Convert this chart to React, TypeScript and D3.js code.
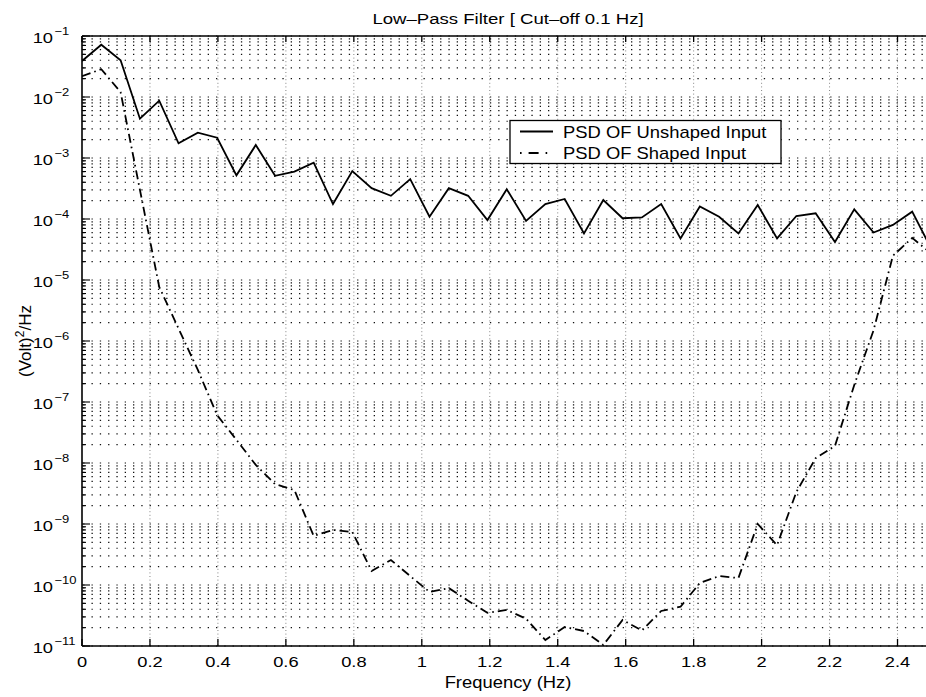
import React from "react";
import * as d3 from "d3";

// Frequency bins (Hz)
const freqs = [
  0, 0.0568, 0.1136, 0.1705, 0.2273, 0.2841, 0.3409, 0.3977, 0.4545, 0.5114,
  0.5682, 0.625, 0.6818, 0.7386, 0.7955, 0.8523, 0.9091, 0.9659, 1.0227, 1.0795,
  1.1364, 1.1932, 1.25, 1.3068, 1.3636, 1.4205, 1.4773, 1.5341, 1.5909, 1.6477,
  1.7045, 1.7614, 1.8182, 1.875, 1.9318, 1.9886, 2.0455, 2.1023, 2.1591, 2.2159,
  2.2727, 2.3295, 2.3864, 2.4432, 2.5,
];

// PSD of the unshaped input, (Volt)^2/Hz
const psdUnshaped = [
  3.9e-2, 7.2e-2, 4.0e-2, 4.4e-3, 8.7e-3, 1.74e-3, 2.6e-3, 2.15e-3, 5.2e-4, 1.63e-3,
  5.1e-4, 6.0e-4, 8.4e-4, 1.76e-4, 6.1e-4, 3.2e-4, 2.4e-4, 4.5e-4, 1.09e-4, 3.2e-4,
  2.4e-4, 9.6e-5, 3.07e-4, 9.3e-5, 1.76e-4, 2.13e-4, 5.8e-5, 2.05e-4, 1.03e-4, 1.06e-4,
  1.76e-4, 4.8e-5, 1.6e-4, 1.09e-4, 5.8e-5, 1.7e-4, 4.8e-5, 1.12e-4, 1.24e-4, 4.2e-5,
  1.44e-4, 6.0e-5, 8.0e-5, 1.32e-4, 3.2e-5,
];

// PSD of the shaped (low-pass filtered) input, (Volt)^2/Hz
const psdShaped = [
  2.2e-2, 2.85e-2, 1.2e-2, 3.0e-4, 7.7e-6, 1.6e-6, 3.35e-7, 6.1e-8, 2.4e-8, 9.3e-9,
  4.5e-9, 3.6e-9, 6.4e-10, 8.0e-10, 7.4e-10, 1.7e-10, 2.57e-10, 1.4e-10, 7.7e-11, 8.9e-11,
  5.5e-11, 3.5e-11, 3.9e-11, 2.8e-11, 1.25e-11, 2.05e-11, 1.76e-11, 1.04e-11, 2.67e-11, 1.8e-11,
  3.75e-11, 4.4e-11, 1.08e-10, 1.4e-10, 1.3e-10, 1.0e-9, 4.5e-10, 3.35e-9, 1.2e-8, 1.9e-8,
  1.9e-7, 1.5e-6, 2.5e-5, 4.9e-5, 2.7e-5,
];

const xTicks = [0, 0.2, 0.4, 0.6, 0.8, 1, 1.2, 1.4, 1.6, 1.8, 2, 2.2, 2.4];
const yExponents = [-1, -2, -3, -4, -5, -6, -7, -8, -9, -10, -11];

const titleText = "Low\u2013Pass Filter [ Cut\u2013off 0.1 Hz]";
const xLabel = "Frequency  (Hz)";
const legendLabels = ["PSD OF Unshaped Input", "PSD OF Shaped Input"];

const W = 926;
const H = 697;
const FONT = "'Liberation Sans', Arial, Helvetica, sans-serif";
const SX = 1.18;

const left = 82;
const right = 931.5;
const top = 36;
const bottom = 646;

function T({ x, y, size, anchor = "start", sx = SX, children }: any) {
  return (
    <text
      transform={`translate(${x},${y}) scale(${sx},1)`}
      fontFamily={FONT}
      fontSize={size}
      textAnchor={anchor}
      fill="#000"
    >
      {children}
    </text>
  );
}

export default function App() {
  const x = d3.scaleLinear().domain([0, 2.5]).range([left, right]);
  const y = d3.scaleLog().domain([1e-11, 1e-1]).range([bottom, top]);

  const line = d3
    .line<number>()
    .x((_, i) => x(freqs[i]))
    .y((v) => y(v));

  // all horizontal grid levels: 1..9 x 10^k
  const gridLevels: number[] = [];
  for (let e = -11; e < -1 + 1; e++) {
    for (let m = 1; m <= 9; m++) {
      const v = m * Math.pow(10, e);
      if (v >= 1e-11 && v <= 1e-1 + 1e-15) gridLevels.push(v);
    }
  }

  const lx0 = 520;
  const lx1 = 553;

  return (
    <svg
      width={W}
      height={H}
      style={{ position: "absolute", left: 0, top: 0, background: "#fff" }}
    >
      <defs>
        <clipPath id="plotClip">
          <rect x={left} y={top - 2} width={right - left} height={bottom - top + 4} />
        </clipPath>
      </defs>
      <rect x={0} y={0} width={W} height={H} fill="#fff" />

      {/* horizontal dotted grid */}
      <g>
        {gridLevels.map((v, i) => (
          <line
            key={i}
            x1={left}
            x2={W}
            y1={y(v)}
            y2={y(v)}
            stroke="#111"
            strokeWidth={1.2}
            strokeDasharray="1.3 7"
            strokeDashoffset={-9.5}
          />
        ))}
      </g>

      {/* vertical grid at the major x ticks */}
      <g>
        {xTicks.slice(1).map((t) => (
          <line
            key={t}
            x1={x(t)}
            x2={x(t)}
            y1={top}
            y2={bottom}
            stroke="#777"
            strokeWidth={0.9}
            strokeDasharray="1 2.6"
          />
        ))}
      </g>

      {/* data */}
      <g clipPath="url(#plotClip)">
        <path
          d={line(psdShaped) || ""}
          fill="none"
          stroke="#000"
          strokeWidth={1.8}
          strokeDasharray="9 4 1.6 4"
        />
        <path
          d={line(psdUnshaped) || ""}
          fill="none"
          stroke="#000"
          strokeWidth={1.8}
          strokeLinejoin="miter"
        />
      </g>

      {/* axes box */}
      <line x1={left} x2={left} y1={top} y2={bottom} stroke="#000" strokeWidth={1.6} />
      <line x1={left} x2={W} y1={bottom} y2={bottom} stroke="#000" strokeWidth={1.6} />
      <line x1={left} x2={W} y1={top} y2={top} stroke="#000" strokeWidth={1.6} />

      {/* x ticks (bottom and top, inward) */}
      {xTicks.map((t) => (
        <g key={t}>
          <line x1={x(t)} x2={x(t)} y1={bottom} y2={bottom - 7} stroke="#000" strokeWidth={1.3} />
          <line x1={x(t)} x2={x(t)} y1={top} y2={top + 6} stroke="#000" strokeWidth={1.3} />
        </g>
      ))}

      {/* y ticks, major and minor */}
      {gridLevels.map((v, i) => {
        const major = Math.abs(Math.log10(v) - Math.round(Math.log10(v))) < 1e-9;
        return (
          <line
            key={i}
            x1={left}
            x2={left + (major ? 8 : 4)}
            y1={y(v)}
            y2={y(v)}
            stroke="#000"
            strokeWidth={1.1}
          />
        );
      })}

      {/* x tick labels */}
      {xTicks.map((t) => (
        <T key={t} x={x(t)} y={bottom + 21} size={15.5} anchor="middle">
          {String(t)}
        </T>
      ))}

      {/* y tick labels as powers of ten */}
      {yExponents.map((e) => {
        const yy = y(Math.pow(10, e));
        return (
          <g key={e}>
            <T x={53} y={yy + 7} size={15.5} anchor="end">
              10
            </T>
            <T x={54.5} y={yy - 1} size={11} anchor="start">
              {"\u2212" + Math.abs(e)}
            </T>
          </g>
        );
      })}

      {/* title */}
      <T x={508} y={24} size={15} anchor="middle" sx={1.24}>
        {titleText}
      </T>

      {/* x label */}
      <T x={508} y={688} size={16} anchor="middle" sx={1.15}>
        {xLabel}
      </T>

      {/* y label */}
      <text
        transform="translate(31,341) rotate(-90)"
        fontFamily={FONT}
        fontSize={17}
        textAnchor="middle"
        fill="#000"
      >
        (Volt)
        <tspan dy={-7} fontSize={12}>
          2
        </tspan>
        <tspan dy={7}>/Hz</tspan>
      </text>

      {/* legend */}
      <g>
        <rect x={510} y={120.5} width={271} height={43} fill="#fff" stroke="#000" strokeWidth={1.3} />
        <line x1={lx0} x2={lx1} y1={131.5} y2={131.5} stroke="#000" strokeWidth={1.8} />
        <line
          x1={lx0}
          x2={lx1}
          y1={153}
          y2={153}
          stroke="#000"
          strokeWidth={1.8}
          strokeDasharray="1.6 7 10 7 1.6 20"
        />
        <T x={563} y={138} size={16} sx={1.15}>
          {legendLabels[0]}
        </T>
        <T x={563} y={158.5} size={16} sx={1.15}>
          {legendLabels[1]}
        </T>
      </g>
    </svg>
  );
}
